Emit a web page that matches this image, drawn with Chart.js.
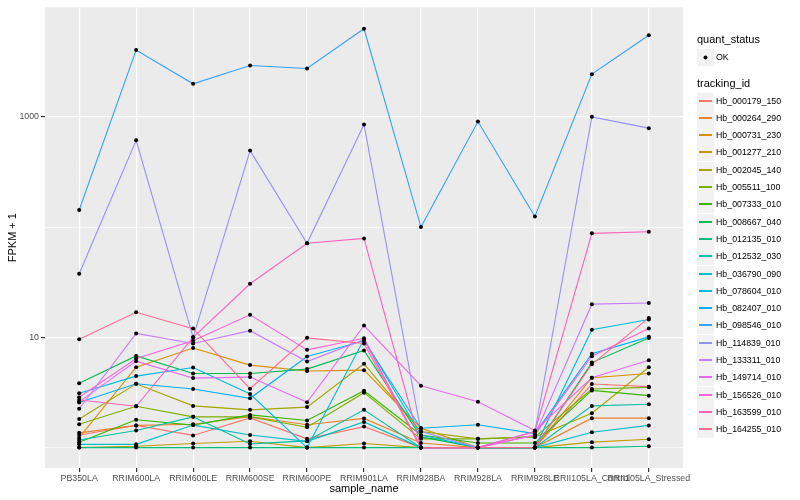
<!DOCTYPE html>
<html>
<head>
<meta charset="UTF-8">
<title>FPKM by sample</title>
<script src="https://cdn.jsdelivr.net/npm/chart.js"></script>
<style>
  body { margin: 0; background: #fff; }
</style>
</head>
<body>
<canvas id="myChart" width="800" height="500"></canvas>
<script>
const categories = ['PB350LA', 'RRIM600LA', 'RRIM600LE', 'RRIM600SE', 'RRIM600PE', 'RRIM901LA',
                    'RRIM928BA', 'RRIM928LA', 'RRIM928LE', 'RRII105LA_Control', 'RRII105LA_Stressed'];

const trackingIds = ['Hb_000179_150', 'Hb_000264_290', 'Hb_000731_230', 'Hb_001277_210', 'Hb_002045_140',
                     'Hb_005511_100', 'Hb_007333_010', 'Hb_008667_040', 'Hb_012135_010', 'Hb_012532_030',
                     'Hb_036790_090', 'Hb_078604_010', 'Hb_082407_010', 'Hb_098546_010', 'Hb_114839_010',
                     'Hb_133311_010', 'Hb_149714_010', 'Hb_156526_010', 'Hb_163599_010', 'Hb_164255_010'];

const colors = ['#F8766D', '#EA8331', '#D89000', '#C09B00', '#A3A500', '#7CAE00', '#39B600', '#00BB4E',
                '#00BF7D', '#00C1A3', '#00BFC4', '#00BAE0', '#00B0F6', '#35A2FF', '#9590FF', '#C77CFF',
                '#E76BF3', '#FA62DB', '#FF62BC', '#FF6C91'];

// FPKM + 1, one array per tracking_id, in category order
const hb000179 = [1.3, 1.59, 1.29, 1.86, 1.2, 1.55, 1.0, 1.0, 1.0, 3.77, 3.57];
const hb000264 = [1.36, 1.59, 1.63, 1.91, 1.61, 1.84, 1.1, 1.0, 1.0, 1.85, 1.85];
const hb000731 = [1.23, 5.36, 8.0, 5.6, 4.95, 5.04, 1.5, 1.0, 1.0, 4.3, 4.7];
const hb001277 = [1.0, 1.03, 1.09, 1.14, 1.0, 1.09, 1.0, 1.0, 1.0, 1.12, 1.19];
const hb002045 = [1.82, 3.79, 2.39, 2.2, 2.33, 5.75, 1.4, 1.2, 1.25, 2.05, 5.36];
const hb005511 = [1.63, 2.37, 1.9, 1.9, 1.53, 3.15, 1.2, 1.2, 1.25, 3.4, 3.52];
const hb007333 = [1.12, 1.79, 1.6, 1.98, 1.76, 3.28, 1.3, 1.1, 1.1, 3.3, 2.96];
const hb008667 = [3.83, 6.78, 4.7, 4.7, 5.15, 7.6, 1.25, 1.0, 1.0, 5.9, 9.85];
const hb012135 = [1.0, 1.0, 1.0, 1.0, 1.0, 1.0, 1.0, 1.0, 1.0, 1.0, 1.03];
const hb012532 = [1.17, 1.43, 1.9, 1.08, 1.15, 2.2, 1.0, 1.0, 1.0, 2.39, 2.47];
const hb036790 = [1.07, 1.07, 1.6, 1.3, 1.14, 1.71, 1.0, 1.0, 1.0, 1.38, 1.59];
const hb078604 = [3.11, 4.45, 5.33, 3.06, 1.0, 9.6, 1.3, 1.0, 1.0, 11.7, 14.5];
const hb082407 = [2.56, 3.79, 3.4, 2.8, 6.7, 9.3, 1.5, 1.61, 1.34, 7.1, 10.1];
const hb098546 = [143, 4040, 1995, 2924, 2748, 6300, 100, 907, 125, 2440, 5500];
const hb114839 = [37.7, 612, 10, 494, 71.3, 853, 1.4, 1.0, 1.4, 1000, 790];
const hb133311 = [2.25, 10.85, 8.8, 11.5, 6.03, 9.5, 1.0, 1.0, 1.3, 20, 20.5];
const hb149714 = [2.6, 6.08, 4.27, 4.36, 2.58, 12.8, 3.64, 2.61, 1.43, 4.3, 6.2];
const hb156526 = [2.86, 6.42, 9.3, 16, 7.7, 9.8, 1.0, 1.0, 1.3, 6.75, 12];
const hb163599 = [2.7, 2.37, 10, 30.6, 71.3, 79, 1.0, 1.0, 1.4, 87.8, 90.7];
const hb164255 = [9.6, 16.9, 12, 3.42, 9.9, 8.8, 1.0, 1.0, 1.0, 5.7, 15];

const seriesValues = [hb000179, hb000264, hb000731, hb001277, hb002045, hb005511, hb007333, hb008667,
                      hb012135, hb012532, hb036790, hb078604, hb082407, hb098546, hb114839, hb133311,
                      hb149714, hb156526, hb163599, hb164255];

const yTicks = [1, 10, 100, 1000];
const yLabelled = [10, 1000];
const FONT = '"Liberation Sans", Arial, sans-serif';

// lines first (later groups on top), points above everything
const datasets = seriesValues.map((vals, i) => ({
    type: 'line',
    label: trackingIds[i],
    data: vals.map((v, j) => ({ x: j, y: v })),
    borderColor: colors[i],
    borderWidth: 1.1,
    pointRadius: 0,
    tension: 0,
    order: 20 - i
}));
datasets.push({
    type: 'scatter',
    label: 'OK',
    data: seriesValues.flatMap(vals => vals.map((v, j) => ({ x: j, y: v }))),
    backgroundColor: '#000',
    borderWidth: 0,
    pointRadius: 2,
    order: 0
});

const ggExtras = {
    id: 'ggExtras',
    beforeDraw(chart) {
        const { ctx, chartArea: a } = chart;
        ctx.save();
        ctx.fillStyle = '#fff';
        ctx.fillRect(0, 0, chart.width, chart.height);
        ctx.fillStyle = '#EBEBEB';
        ctx.fillRect(a.left, a.top, a.right - a.left, a.bottom - a.top);
        ctx.restore();
    },
    afterDraw(chart) {
        const { ctx, chartArea: a } = chart;
        ctx.save();
        ctx.fillStyle = '#000';
        ctx.font = '11px ' + FONT;
        ctx.textAlign = 'center';
        ctx.textBaseline = 'middle';
        ctx.fillText('sample_name', (a.left + a.right) / 2, 489);
        ctx.save();
        ctx.translate(13, (a.top + a.bottom) / 2);
        ctx.rotate(-Math.PI / 2);
        ctx.fillText('FPKM + 1', 0, 0);
        ctx.restore();

        // legend
        const kx = 697, ks = 17, tx = 716;
        ctx.textAlign = 'left';
        ctx.fillText('quant_status', kx, 40);
        ctx.fillStyle = '#F2F2F2';
        ctx.fillRect(kx, 49, ks, ks);
        ctx.fillStyle = '#000';
        ctx.beginPath();
        ctx.arc(kx + ks / 2, 49 + ks / 2, 2, 0, Math.PI * 2);
        ctx.fill();
        ctx.font = '8.8px ' + FONT;
        ctx.fillText('OK', tx, 57.5);
        ctx.font = '11px ' + FONT;
        ctx.fillText('tracking_id', kx, 84);
        ctx.font = '8.8px ' + FONT;
        trackingIds.forEach((id, i) => {
            const top = Math.round(101 + i * 17.3 - ks / 2);
            ctx.fillStyle = '#F2F2F2';
            ctx.fillRect(kx, top, ks, ks);
            ctx.fillStyle = colors[i];
            ctx.fillRect(kx + 2, top + 7, ks - 4, 2);
            ctx.fillStyle = '#000';
            ctx.fillText(id, tx, top + ks / 2);
        });
        ctx.restore();
    }
};

new Chart(document.getElementById('myChart').getContext('2d'), {
    data: { datasets: datasets },
    options: {
        responsive: false,
        animation: false,
        layout: { padding: { left: 0, top: 5, right: 117, bottom: 0 } },
        plugins: { legend: { display: false }, tooltip: { enabled: false } },
        scales: {
            x: {
                type: 'linear',
                min: -0.6,
                max: categories.length - 0.4,
                afterBuildTicks: s => { s.ticks = categories.map((c, i) => ({ value: i })); },
                afterFit: s => { s.height = 32; },
                border: { display: false },
                grid: { color: '#fff', lineWidth: 1.2, tickLength: 4, tickColor: '#333' },
                ticks: {
                    autoSkip: false, maxRotation: 0, padding: 1, color: '#4D4D4D',
                    font: { family: FONT, size: 8.8 },
                    callback: v => categories[v]
                }
            },
            y: {
                type: 'logarithmic',
                min: 0.653,
                max: 9860,
                afterBuildTicks: s => { s.ticks = yTicks.map(v => ({ value: v })); },
                afterFit: s => { s.width = 45; },
                border: { display: false },
                grid: {
                    color: '#fff',
                    lineWidth: c => yLabelled.includes(c.tick.value) ? 1.2 : 0.6,
                    tickLength: 4,
                    tickColor: c => yLabelled.includes(c.tick.value) ? '#333' : 'rgba(0,0,0,0)'
                },
                ticks: {
                    padding: 2, color: '#4D4D4D',
                    font: { family: FONT, size: 8.8 },
                    callback: v => yLabelled.includes(v) ? String(v) : ''
                }
            }
        }
    },
    plugins: [ggExtras]
});
</script>
</body>
</html>
